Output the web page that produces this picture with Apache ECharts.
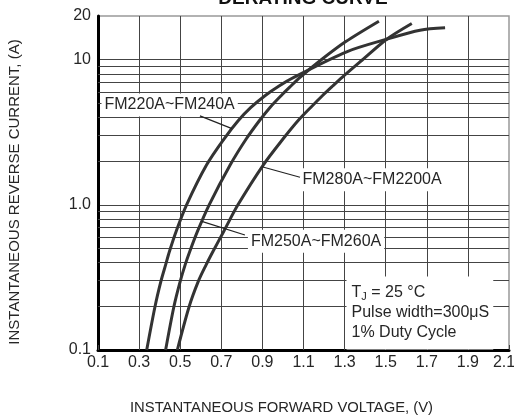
<!DOCTYPE html>
<html><head><meta charset="utf-8">
<script src="https://cdn.jsdelivr.net/npm/echarts@6/dist/echarts.min.js"></script>
<style>html,body{margin:0;padding:0;background:#fff}#c{width:514px;height:419px}</style>
</head><body><div id="c"></div>
<script>
// ---- data ----
const voltsA = [0.337, 0.377, 0.406, 0.429, 0.448, 0.481, 0.531, 0.628, 0.713, 0.783, 0.844, 0.914, 0.981, 1.053, 1.31, 1.505, 1.667, 1.789];
const ampsA  = [0.1,   0.198, 0.297, 0.386, 0.479, 0.661, 1.0,   1.88,  2.84,  3.81,  4.69,  5.67,  6.59,  7.56,  11.34, 13.84, 15.97, 16.59];
const voltsB = [0.429, 0.469, 0.500, 0.524, 0.547, 0.585, 0.641, 0.743, 0.821, 0.886, 0.937, 0.992, 1.039, 1.083, 1.185, 1.304, 1.467];
const ampsB  = [0.1,   0.198, 0.297, 0.386, 0.479, 0.661, 1.0,   1.88,  2.84,  3.81,  4.69,  5.67,  6.59,  7.56,  9.95,  13.28, 18.42];
const voltsC = [0.486, 0.543, 0.588, 0.626, 0.660, 0.713, 0.781, 0.904, 1.0,  1.074, 1.135, 1.193, 1.242, 1.288, 1.386, 1.505, 1.627];
const ampsC  = [0.1,   0.198, 0.297, 0.386, 0.479, 0.661, 1.0,   1.88,  2.84, 3.81,  4.69,  5.67,  6.59,  7.56,  9.95,  13.84, 17.76];
const seriesNames = ['FM220A~FM240A', 'FM250A~FM260A', 'FM280A~FM2200A'];
const yTickLabels = {'0.1': '0.1', '1': '1.0', '10': '10', '20': '20'};
const minorGridValues = [0.2, 0.3, 0.4, 0.5, 0.6, 0.7, 0.8, 0.9, 2, 3, 4, 5, 6, 7, 8, 9];
const labelTexts   = ['FM220A~FM240A', 'FM280A~FM2200A', 'FM250A~FM260A'];
const labelAnchors = [[0.1195, 4.84], [1.083, 1.476], [0.832, 0.557]];
const leaderLines  = [[[0.596, 4.1], [0.752, 3.35]], [[0.898, 1.83], [1.083, 1.55]], [[0.605, 0.77], [0.815, 0.62]]];
const noteAnchor = [1.3117, 0.1];
const titleText = 'DERATING CURVE';
const xName = 'INSTANTANEOUS FORWARD VOLTAGE, (V)';
const yName = 'INSTANTANEOUS REVERSE CURRENT, (A)';

const zip = (xs, ys) => xs.map((x, i) => [x, ys[i]]);
const TICKFONT = "'Liberation Sans Narrow', 'Arial Narrow', 'Liberation Sans', sans-serif";
const FONT = "'Liberation Sans', Arial, sans-serif";
const ink = '#262626';

const chart = echarts.init(document.getElementById('c'), null, {renderer: 'canvas'});
const curve = (name, data) => ({
  name, type: 'line', data, symbol: 'none', smooth: 0.3, z: 2,
  lineStyle: {color: '#333', width: 3}, silent: true
});

chart.setOption({
  animation: false,
  backgroundColor: '#fff',
  graphic: [{
    type: 'text', x: 303, y: 8,
    style: {text: titleText, font: "bold 19px 'Liberation Sans', Arial, sans-serif", fill: '#111', align: 'center', verticalAlign: 'bottom'}
  }],
  grid: {left: 98, right: 5, top: 16, bottom: 69, containLabel: false, outerBoundsMode: 'none',
    show: true, borderColor: '#999', borderWidth: 1.5},
  xAxis: {
    type: 'value', min: 0.1, max: 2.1, interval: 0.2,
    name: xName, nameLocation: 'middle', nameGap: 50,
    nameTextStyle: {fontFamily: FONT, fontSize: 14.8, color: ink, padding: [0, 44, 0, 0]},
    axisLine: {show: true, onZero: false, lineStyle: {color: '#000', width: 3}},
    axisTick: {show: true, inside: true, length: 5, lineStyle: {color: '#444'}},
    axisLabel: {
      formatter: v => (Math.abs(v - 2.1) < 1e-6 ? '{last|' + v.toFixed(1) + '}' : v.toFixed(1)),
      fontFamily: TICKFONT, fontSize: 16, color: ink, margin: 5,
      rich: {last: {fontFamily: TICKFONT, fontSize: 16, color: ink, padding: [0, 10, 0, 0]}}
    },
    splitLine: {show: true, showMinLine: false, showMaxLine: false, lineStyle: {color: '#444', width: 1}}
  },
  yAxis: {
    type: 'log', logBase: 10, min: 0.1, max: 20,
    name: yName, nameLocation: 'middle', nameGap: 76,
    nameTextStyle: {fontFamily: FONT, fontSize: 15, color: ink, padding: [0, 18, 0, 0]},
    axisLine: {show: true, lineStyle: {color: '#000', width: 3}},
    axisTick: {show: false},
    axisLabel: {formatter: v => yTickLabels[String(+v.toPrecision(3))] ?? '', fontFamily: TICKFONT, fontSize: 16, color: ink, margin: 7},
    splitLine: {show: true, showMinLine: false, showMaxLine: false, lineStyle: {color: '#444', width: 1}}
  },
  series: [
    Object.assign(curve(seriesNames[0], zip(voltsA, ampsA)), {
      markLine: {
        z: 1, silent: true, symbol: 'none', label: {show: false}, animation: false,
        lineStyle: {color: '#444', width: 1, type: 'solid'},
        data: minorGridValues.map(v => ({yAxis: v}))
      }
    }),
    curve(seriesNames[1], zip(voltsB, ampsB)),
    curve(seriesNames[2], zip(voltsC, ampsC)),
    {
      type: 'line', data: [], silent: true, z: 3,
      markPoint: {
        z: 3, silent: true, symbol: 'rect', symbolSize: 1, itemStyle: {color: 'rgba(0,0,0,0)'}, animation: false,
        data: labelTexts.map((t, i) => ({
          coord: labelAnchors[i],
          label: {show: true, formatter: t, position: [0, 0], align: 'left', verticalAlign: 'middle',
            fontFamily: FONT, fontSize: 16, color: ink, backgroundColor: '#fff', padding: [3, 3, 3, 3], lineHeight: 17}
        })).concat([{
          coord: noteAnchor,
          label: {show: true, position: [0, 0], align: 'left', verticalAlign: 'bottom',
            formatter: '{a|T}{s|J}{a| = 25 °C}\n{a|Pulse width=300μS}\n{a|1% Duty Cycle}',
            backgroundColor: '#fff', padding: [6, 4, 7, 5],
            rich: {
              a: {fontFamily: FONT, fontSize: 16, color: ink, lineHeight: 20},
              s: {fontFamily: FONT, fontSize: 11, color: ink, lineHeight: 20, padding: [8, 0, 0, 0]}
            }}
        }])
      },
      markLine: {
        z: 4, silent: true, symbol: 'none', label: {show: false}, animation: false,
        lineStyle: {color: '#222', width: 1.2, type: 'solid'},
        data: leaderLines.map(seg => [{coord: seg[0]}, {coord: seg[1]}])
      }
    }
  ]
});
</script></body></html>
